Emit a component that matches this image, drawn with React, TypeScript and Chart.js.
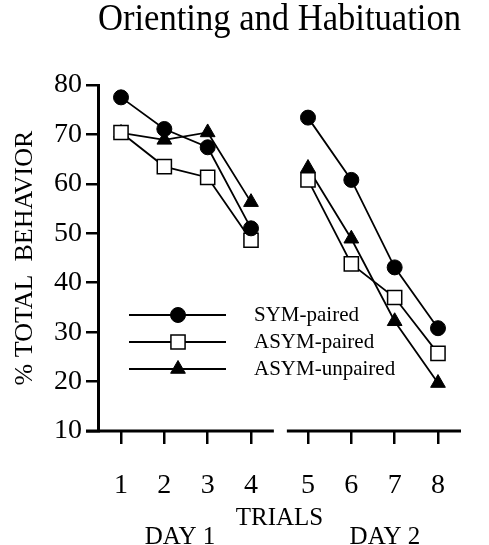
import React, { useEffect, useRef } from 'react';
import { Chart, registerables } from 'chart.js';

Chart.register(...registerables);

// ---- data ----
const TRIALS = [1, 2, 3, 4, 5, 6, 7, 8];
const DAYS = [1, 1, 1, 1, 2, 2, 2, 2];
const DAY_LABELS = ['DAY 1', 'DAY 2'];
const SERIES_NAMES = ['SYM-paired', 'ASYM-paired', 'ASYM-unpaired'];
const SYM_PAIRED = [77.5, 71.1, 67.4, 51.0, 73.4, 60.8, 43.1, 30.8];
const ASYM_PAIRED = [70.4, 63.5, 61.3, 48.6, 60.8, 43.8, 37.0, 25.7];
const ASYM_UNPAIRED = [70.3, 68.9, 70.4, 56.3, 63.2, 48.9, 32.2, 19.7];
const Y_TICKS = [10, 20, 30, 40, 50, 60, 70, 80];

// ---- layout helpers ----
const DAY_GAP = 0.315;
const pos = (i: number) => TRIALS[i] + (DAYS[i] - 1) * DAY_GAP;
const SERIF = '"Liberation Serif", "Times New Roman", serif';

function buildData(values: number[]) {
  const pts: { x: number; y: number | null }[] = [];
  values.forEach((v, i) => {
    if (i > 0 && DAYS[i] !== DAYS[i - 1]) {
      pts.push({ x: (pos(i - 1) + pos(i)) / 2, y: null });
    }
    pts.push({ x: pos(i), y: v });
  });
  return pts;
}

function drawMarker(ctx: CanvasRenderingContext2D, style: string, x: number, y: number, r: number, fill: string, stroke: string, bw: number) {
  ctx.beginPath();
  if (style === 'circle') {
    ctx.arc(x, y, r, 0, Math.PI * 2);
  } else if (style === 'rect') {
    const h = r * Math.SQRT1_2;
    ctx.rect(x - h, y - h, 2 * h, 2 * h);
  } else {
    let a = 0;
    ctx.moveTo(x + Math.sin(a) * r, y - Math.cos(a) * r);
    a += (2 * Math.PI) / 3;
    ctx.lineTo(x + Math.sin(a) * r, y - Math.cos(a) * r);
    a += (2 * Math.PI) / 3;
    ctx.lineTo(x + Math.sin(a) * r, y - Math.cos(a) * r);
    ctx.closePath();
  }
  ctx.fillStyle = fill;
  ctx.fill();
  ctx.lineWidth = bw;
  ctx.strokeStyle = stroke;
  ctx.stroke();
}

const decorPlugin = {
  id: 'decor',
  afterDraw(chart: any) {
    const { ctx, chartArea, scales } = chart;
    const xs = scales.x;
    ctx.save();
    // broken x axis line
    const brk = (pos(3) + pos(4)) / 2;
    const y = chartArea.bottom;
    ctx.strokeStyle = '#000';
    ctx.lineWidth = 3;
    ctx.beginPath();
    ctx.moveTo(chartArea.left - 12, y);
    ctx.lineTo(xs.getPixelForValue(brk - 0.13), y);
    ctx.moveTo(xs.getPixelForValue(brk + 0.17), y);
    ctx.lineTo(chartArea.right, y);
    ctx.stroke();

    // legend
    chart.data.datasets.forEach((ds: any, i: number) => {
      const ly = chartArea.top + 230 + i * 27;
      const x0 = chartArea.left + 31;
      const x1 = chartArea.left + 128;
      const xm = chartArea.left + 80;
      ctx.strokeStyle = ds.borderColor;
      ctx.lineWidth = ds.borderWidth;
      ctx.beginPath();
      ctx.moveTo(x0, ly);
      ctx.lineTo(x1, ly);
      ctx.stroke();
      drawMarker(ctx, ds.pointStyle, xm, ly, ds.pointRadius, ds.pointBackgroundColor, ds.pointBorderColor, ds.pointBorderWidth);
      ctx.fillStyle = '#000';
      ctx.font = `21px ${SERIF}`;
      ctx.textAlign = 'left';
      ctx.textBaseline = 'middle';
      ctx.fillText(ds.label, chartArea.left + 156, ly);
    });

    // day labels
    const anchors = [2.36, 7.09];
    ctx.font = `25px ${SERIF}`;
    ctx.textAlign = 'center';
    ctx.textBaseline = 'middle';
    ctx.fillStyle = '#000';
    DAY_LABELS.forEach((t, i) => {
      ctx.fillText(t, xs.getPixelForValue(anchors[i]), chart.height - 8);
    });
    ctx.restore();
  },
};

export default function App() {
  const ref = useRef<HTMLCanvasElement | null>(null);
  useEffect(() => {
    document.body.style.margin = '0';
    if (!ref.current) return;
    const tickFont = { family: SERIF, size: 28, weight: 'normal' as const };
    const chart = new Chart(ref.current, {
      type: 'line',
      data: {
        datasets: [
          {
            label: SERIES_NAMES[0],
            data: buildData(SYM_PAIRED),
            borderColor: '#000',
            borderWidth: 1.8,
            pointStyle: 'circle',
            pointRadius: 7.5,
            pointBackgroundColor: '#000',
            pointBorderColor: '#000',
            pointBorderWidth: 1,
            spanGaps: false,
          },
          {
            label: SERIES_NAMES[1],
            data: buildData(ASYM_PAIRED),
            borderColor: '#000',
            borderWidth: 1.8,
            pointStyle: 'rect',
            pointRadius: 10,
            pointBackgroundColor: '#fff',
            pointBorderColor: '#000',
            pointBorderWidth: 1.5,
            spanGaps: false,
          },
          {
            label: SERIES_NAMES[2],
            data: buildData(ASYM_UNPAIRED),
            borderColor: '#000',
            borderWidth: 1.8,
            pointStyle: 'triangle',
            pointRadius: 8.5,
            pointBackgroundColor: '#000',
            pointBorderColor: '#000',
            pointBorderWidth: 1,
            spanGaps: false,
          },
        ] as any,
      },
      options: {
        animation: false,
        responsive: false,
        layout: { padding: { left: 10, right: 28, top: 0, bottom: 0 } },
        plugins: {
          legend: { display: false },
          tooltip: { enabled: false },
          title: {
            display: true,
            text: 'Orienting and Habituation',
            color: '#000',
            fullSize: false,
            font: { family: SERIF, size: 37, weight: 'normal', lineHeight: 1.1 },
            padding: { top: 0, bottom: 44.3 },
          },
        },
        scales: {
          x: {
            type: 'linear',
            min: 0.469,
            max: 8.846,
            afterBuildTicks: (s: any) => {
              s.ticks = TRIALS.map((_, i) => ({ value: pos(i) }));
            },
            afterFit: (s: any) => {
              s.height = 114;
            },
            ticks: {
              autoSkip: false,
              maxRotation: 0,
              color: '#000',
              font: tickFont,
              padding: 25,
              callback: (v: any) => {
                const i = TRIALS.findIndex((_, k) => Math.abs(pos(k) - Number(v)) < 1e-6);
                return i >= 0 ? String(TRIALS[i]) : '';
              },
            },
            grid: {
              display: true,
              drawOnChartArea: false,
              drawTicks: true,
              tickLength: 13,
              lineWidth: 2.5,
              color: '#000',
            },
            border: { display: false },
            title: {
              display: true,
              text: 'TRIALS',
              color: '#000',
              font: { family: SERIF, size: 25, weight: 'normal' },
              padding: { top: 0, bottom: 12 },
            },
          },
          y: {
            min: 10,
            max: 80,
            afterBuildTicks: (s: any) => {
              s.ticks = Y_TICKS.map((v) => ({ value: v }));
            },
            afterFit: (s: any) => {
              s.width = 88;
            },
            ticks: { color: '#000', font: tickFont, padding: 4 },
            grid: {
              display: true,
              drawOnChartArea: false,
              drawTicks: true,
              tickLength: 12,
              lineWidth: 2.5,
              color: '#000',
            },
            border: { display: true, width: 3, color: '#000' },
            title: {
              display: true,
              text: '% TOTAL  BEHAVIOR',
              color: '#000',
              font: { family: SERIF, size: 26, weight: 'normal' },
              padding: 0,
            },
          },
        },
      } as any,
      plugins: [decorPlugin],
    });
    return () => chart.destroy();
  }, []);
  return (
    <div style={{ width: 489, height: 545 }}>
      <canvas ref={ref} width={489} height={545} style={{ display: 'block' }} />
    </div>
  );
}
